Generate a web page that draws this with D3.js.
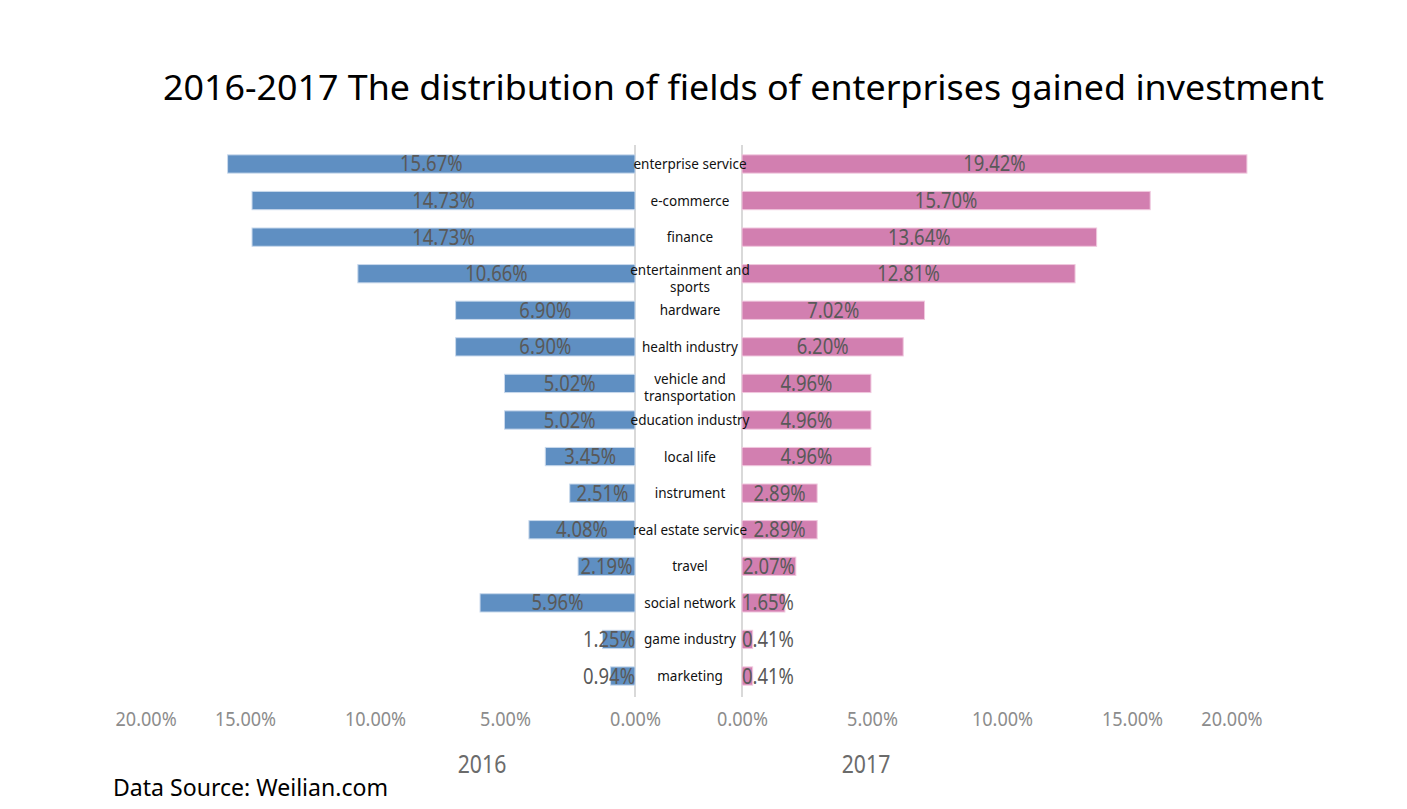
<!DOCTYPE html>
<html><head><meta charset="utf-8">
<script src="https://cdn.jsdelivr.net/npm/d3@7"></script>
<style>body{margin:0;background:#fff}svg{display:block}</style>
</head><body>
<svg id="c" width="1407" height="809"></svg>
<script>
const categories = ["enterprise service","e-commerce","finance","entertainment and sports","hardware","health industry","vehicle and transportation","education industry","local life","instrument","real estate service","travel","social network","game industry","marketing"];
const values2016 = [15.67,14.73,14.73,10.66,6.90,6.90,5.02,5.02,3.45,2.51,4.08,2.19,5.96,1.25,0.94];
const values2017 = [19.42,15.70,13.64,12.81,7.02,6.20,4.96,4.96,4.96,2.89,2.89,2.07,1.65,0.41,0.41];
const tickValues = [0,5,10,15,20];
const labelLines = {"entertainment and sports":["entertainment and","sports"],"vehicle and transportation":["vehicle and","transportation"]};

const svg = d3.select("#c");
const font = "'Noto Sans', 'Open Sans', sans-serif";
const leftZero = 635, rightZero = 742, pxPerPct = 26;
const xL = d3.scaleLinear().domain([0,20]).range([leftZero, leftZero - 20*pxPerPct]);
const xR = d3.scaleLinear().domain([0,20]).range([rightZero, rightZero + 20*pxPerPct]);
const y = d3.scaleBand().domain(categories).range([145.7, 694.3]).paddingInner(0.5).paddingOuter(0.25);

function squeeze(sel, f){ sel.each(function(){ const l=this.getComputedTextLength(); d3.select(this).attr("textLength", l*f).attr("lengthAdjust","spacingAndGlyphs"); }); }

// title
const t = svg.append("text").attr("x",743.5).attr("y",100).attr("text-anchor","middle")
  .attr("font-family",font).attr("font-size",35).attr("fill","#000")
  .text("2016-2017 The distribution of fields of enterprises gained investment");
t.attr("textLength",1161).attr("lengthAdjust","spacingAndGlyphs");

// axis lines
[leftZero, rightZero].forEach(x => svg.append("line").attr("x1",x).attr("x2",x).attr("y1",145).attr("y2",697).attr("stroke","#d9d9d9").attr("stroke-width",2));

// bars
svg.append("g").selectAll("rect").data(categories).join("rect")
  .attr("x",(d,i)=>xL(values2016[i])).attr("width",(d,i)=>xL(0)-xL(values2016[i]))
  .attr("y",d=>y(d)).attr("height",y.bandwidth())
  .attr("fill","#5f8fc2").attr("stroke","#c9d9ec").attr("stroke-width",1);
svg.append("g").selectAll("rect").data(categories).join("rect")
  .attr("x",xR(0)).attr("width",(d,i)=>xR(values2017[i])-xR(0))
  .attr("y",d=>y(d)).attr("height",y.bandwidth())
  .attr("fill","#d27fb0").attr("stroke","#f0c8de").attr("stroke-width",1);

// value labels
const vfs = 22.5, sq = 0.82;
function valLabels(vals, scale, side){
  const g = svg.append("g");
  vals.forEach((v,i)=>{
    const txt = v.toFixed(2)+"%";
    const el = g.append("text").attr("font-family",font).attr("font-size",vfs).attr("fill","#595959")
      .attr("text-anchor","middle").attr("y", y(categories[i])+y.bandwidth()/2 + 7.5).text(txt);
    const w = el.node().getComputedTextLength()*sq;
    el.attr("textLength",w).attr("lengthAdjust","spacingAndGlyphs");
    const bc = (scale(0)+scale(v))/2;
    let cx;
    if(side==="L") cx = Math.min(bc, scale(0) - w/2);
    else cx = Math.max(bc, scale(0) + w/2);
    el.attr("x",cx);
  });
}
valLabels(values2016, xL, "L");
valLabels(values2017, xR, "R");

// category labels
const cg = svg.append("g");
categories.forEach(c=>{
  const lines = labelLines[c] || [c];
  const cy = y(c)+y.bandwidth()/2;
  lines.forEach((ln,j)=>{
    const yy = lines.length===1 ? cy+5 : cy + 1 + j*17;
    cg.append("text").attr("x",690).attr("y",yy).attr("text-anchor","middle")
      .attr("font-family",font).attr("font-size",13.5).attr("fill","#111").text(ln);
  });
});

// axes
function drawAxis(scale, side){
  const ax = d3.axisBottom(scale).tickValues(tickValues).tickSize(0).tickFormat(d=>d3.format(".2f")(d)+"%");
  const g = svg.append("g").attr("transform","translate(0,723)").call(ax);
  g.select(".domain").remove();
  g.selectAll("text").attr("font-family",font).attr("font-size",19).attr("fill","#8c8c8c").attr("dy",0);
  g.selectAll("text").each(function(d){
    const w = this.getComputedTextLength()*0.95;
    d3.select(this).attr("textLength",w).attr("lengthAdjust","spacingAndGlyphs");
    if(d===20) d3.select(this).attr("text-anchor", side==="L" ? "start" : "end");
  });
}
drawAxis(xL,"L");
drawAxis(xR,"R");

// year labels
[["2016",482],["2017",866]].forEach(([s,x])=>{
  const e = svg.append("text").attr("x",x).attr("y",773).attr("text-anchor","middle")
    .attr("font-family",font).attr("font-size",25).attr("fill","#6b6b6b").text(s);
  squeeze(e,0.85);
});

// source
const src = svg.append("text").attr("x",113).attr("y",796).attr("font-family",font).attr("font-size",23).attr("fill","#000").text("Data Source: Weilian.com");
src.attr("textLength",275).attr("lengthAdjust","spacingAndGlyphs");
</script>
</body></html>
